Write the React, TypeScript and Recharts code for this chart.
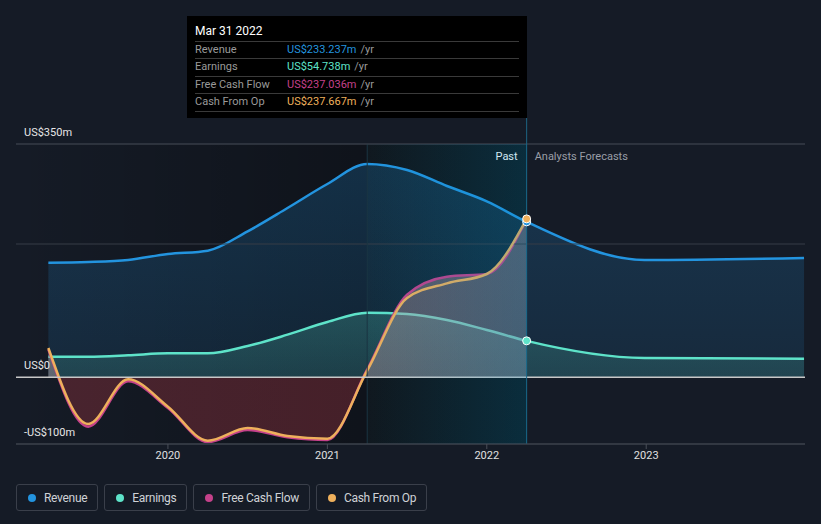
import { ComposedChart, Area, Line, XAxis, YAxis, ReferenceLine, ReferenceArea, ReferenceDot } from 'recharts'

// quarterly history (decimal years) and analyst forecasts, values in US$m
const pastDates = [2019.25, 2019.5, 2019.75, 2020, 2020.25, 2020.5, 2020.75, 2021, 2021.25, 2021.5, 2021.75, 2022, 2022.25]
const revenuePast = [172, 173, 176, 185, 190, 219, 254, 290, 320, 311, 287, 264, 233.237]
const earningsPast = [31, 31, 33, 36, 36, 47, 64, 83, 97, 95, 86, 71, 54.738]
const fcfPast = [42, -74, -6, -46, -97, -79, -90, -94, 12, 124, 151, 155, 237.036]
const cfoPast = [44, -70, -3, -44, -95, -76, -88, -92, 10, 119, 141, 155, 237.667]

const forecastDates = [2022.99, 2023.99]
const revenueForecast = [176, 179]
const earningsForecast = [29, 28]

const xTicks = [2020, 2021, 2022, 2023]
const yLabels = [
  { value: 350, text: 'US$350m' },
  { value: 0, text: 'US$0' },
  { value: -100, text: '-US$100m' },
]
const gridValues = [350, 200]

const series = [
  { name: 'Revenue', color: '#2394df', value: revenuePast[revenuePast.length - 1] },
  { name: 'Earnings', color: '#5ee3c9', value: earningsPast[earningsPast.length - 1] },
  { name: 'Free Cash Flow', color: '#c4418a', value: fcfPast[fcfPast.length - 1] },
  { name: 'Cash From Op', color: '#eeb05c', value: cfoPast[cfoPast.length - 1] },
]

const nowDate = pastDates[pastDates.length - 1]
const bandStart = pastDates[pastDates.length - 5]
const X_MIN = 2019.047
const X_MAX = 2023.996

const data = [
  ...pastDates.map((d, i) => ({
    date: d,
    revenue: revenuePast[i],
    earnings: earningsPast[i],
    fcf: fcfPast[i],
    cfo: cfoPast[i],
  })),
  ...forecastDates.map((d, i) => ({
    date: d,
    revenue: revenueForecast[i],
    earnings: earningsForecast[i],
  })),
]

const fcfMax = Math.max(...fcfPast)
const fcfMin = Math.min(...fcfPast)
const zeroOffset = fcfMax / (fcfMax - fcfMin)

const font = 'Roboto, "Noto Sans", sans-serif'

const YLabel = ({ viewBox, text }: any) => (
  <text x={viewBox.x + 8} y={viewBox.y - 8} fill="#e6e6e6" fontSize={11} fontFamily={font}>
    {text}
  </text>
)

const PastLabel = ({ viewBox }: any) => (
  <g fontFamily={font} fontSize={11}>
    <text x={viewBox.x - 9} y={viewBox.y + 42} textAnchor="end" fill="#ffffff">Past</text>
    <text x={viewBox.x + 8} y={viewBox.y + 42} fill="#9a9ea6">Analysts Forecasts</text>
  </g>
)

export default function App() {
  return (
    <div style={{ position: 'relative', width: 821, height: 524, background: '#151b26', fontFamily: font }}>
      <style>{`body{margin:0;background:#151b26}`}</style>
      <ComposedChart width={821} height={524} data={data} margin={{ top: 118, right: 16, bottom: 56, left: 16 }}>
        <defs>
          <linearGradient id="pastBg" x1="0" y1="0" x2="1" y2="0">
            <stop offset="0%" stopColor="#000" stopOpacity={0} />
            <stop offset="100%" stopColor="#000" stopOpacity={0.3} />
          </linearGradient>
          <linearGradient id="bandBg" x1="0" y1="0" x2="1" y2="0">
            <stop offset="0%" stopColor="#10161c" stopOpacity={1} />
            <stop offset="100%" stopColor="#0d1317" stopOpacity={1} />
          </linearGradient>
          <linearGradient id="bandGlow" x1="0" y1="0" x2="1" y2="0">
            <stop offset="0%" stopColor="rgb(0,138,194)" stopOpacity={0.02} />
            <stop offset="100%" stopColor="rgb(0,138,194)" stopOpacity={0.22} />
          </linearGradient>
          <linearGradient id="revFill" x1="0" y1="0" x2="0" y2="1">
            <stop offset="0%" stopColor="#2394df" stopOpacity={0.22} />
            <stop offset="100%" stopColor="#2394df" stopOpacity={0.12} />
          </linearGradient>
          <linearGradient id="earnFill" x1="0" y1="0" x2="0" y2="1">
            <stop offset="0%" stopColor="#5ee3c9" stopOpacity={0.22} />
            <stop offset="100%" stopColor="#5ee3c9" stopOpacity={0.14} />
          </linearGradient>
          <linearGradient id="cashFill" x1="0" y1="0" x2="0" y2="1">
            <stop offset="0%" stopColor="rgb(191,154,163)" stopOpacity={0.42} />
            <stop offset={zeroOffset} stopColor="rgb(191,154,163)" stopOpacity={0.4} />
            <stop offset={zeroOffset} stopColor="rgb(144,49,60)" stopOpacity={0.42} />
            <stop offset="100%" stopColor="rgb(144,49,60)" stopOpacity={0.42} />
          </linearGradient>
        </defs>
        <XAxis
          dataKey="date"
          type="number"
          domain={[X_MIN, X_MAX]}
          allowDataOverflow
          ticks={xTicks}
          tickFormatter={(v) => String(v)}
          height={24}
          axisLine={{ stroke: '#3d424c' }}
          tickLine={{ stroke: '#4a4f59' }}
          tickSize={5}
          tick={{ fill: '#e0e0e0', fontSize: 11, fontFamily: font }}
        />
        <YAxis hide type="number" domain={[-100, 389]} allowDataOverflow />
        <ReferenceArea x1={X_MIN} x2={bandStart} y1={-100} y2={350} fill="url(#pastBg)" fillOpacity={1} stroke="none" />
        <ReferenceArea x1={bandStart} x2={nowDate} y1={-100} y2={350} fill="url(#bandBg)" fillOpacity={1} stroke="none" />
        {gridValues.map((v) => (
          <ReferenceLine key={v} y={v} stroke="#373c47" strokeWidth={1} />
        ))}
        <Area type="monotone" dataKey="revenue" stroke="#2394df" strokeWidth={2.5} fill="url(#revFill)" fillOpacity={1} dot={false} activeDot={false} isAnimationActive={false} />
        <Area type="monotone" dataKey="earnings" stroke="#5ee3c9" strokeWidth={2.5} fill="url(#earnFill)" fillOpacity={1} dot={false} activeDot={false} isAnimationActive={false} />
        <Area type="monotone" dataKey="fcf" stroke="#c4418a" strokeWidth={2.5} fill="url(#cashFill)" fillOpacity={1} dot={false} activeDot={false} isAnimationActive={false} />
        <Line type="monotone" dataKey="cfo" stroke="#eeb05c" strokeWidth={2.5} dot={false} activeDot={false} isAnimationActive={false} />
        <ReferenceArea x1={bandStart} x2={nowDate} y1={-100} y2={350} fill="url(#bandGlow)" fillOpacity={1} stroke="none" zIndex={450} />
        <ReferenceLine stroke="#1a3340" strokeWidth={1} segment={[{ x: bandStart, y: -100 }, { x: bandStart, y: 350 }]} />
        {yLabels.map((l) => (
          <ReferenceLine
            key={l.value}
            y={l.value}
            stroke={l.value === 0 ? '#c8c8c8' : l.value === -100 ? '#3d424c' : '#373c47'}
            strokeWidth={l.value === 0 ? 1.5 : 1}
            label={<YLabel text={l.text} />}
          />
        ))}
        <ReferenceLine x={nowDate} stroke="#1d6583" strokeWidth={1} label={<PastLabel />} />
        <ReferenceDot x={nowDate} y={revenuePast[revenuePast.length - 1]} r={4} fill="#2394df" stroke="#ffffff" strokeWidth={1} />
        <ReferenceDot x={nowDate} y={cfoPast[cfoPast.length - 1]} r={4} fill="#eeb05c" stroke="#ffffff" strokeWidth={1} />
        <ReferenceDot x={nowDate} y={earningsPast[earningsPast.length - 1]} r={4} fill="#5ee3c9" stroke="#ffffff" strokeWidth={1} />
      </ComposedChart>

      <div style={{ position: 'absolute', left: 187, top: 16, width: 340, height: 102, background: '#000', boxSizing: 'border-box', padding: '6px 8px 0 8px' }}>
        <div style={{ color: '#fff', fontSize: 12, height: 19, lineHeight: '19px' }}>Mar 31 2022</div>
        {series.map((s) => (
          <div key={s.name} style={{ display: 'flex', borderTop: '1px solid #3a3a3a', boxSizing: 'border-box', height: 17.4, lineHeight: '16px', fontSize: 11, width: 324 }}>
            <span style={{ color: '#9a9a9a', width: 92 }}>{s.name}</span>
            <span style={{ color: s.color }}>US${s.value.toFixed(3)}m</span>
            <span style={{ color: '#9a9a9a', marginLeft: 4 }}>/yr</span>
          </div>
        ))}
        <div style={{ borderTop: '1px solid #3a3a3a', width: 324 }} />
      </div>

      <div style={{ position: 'absolute', left: 16, top: 484, display: 'flex', gap: 6 }}>
        {series.map((s) => (
          <div key={s.name} style={{ display: 'flex', alignItems: 'center', height: 27, border: '1px solid #3a3f4a', borderRadius: 3, padding: '0 10px 0 11px', boxSizing: 'border-box' }}>
            <span style={{ width: 8, height: 8, borderRadius: 4, background: s.color, marginRight: 8 }} />
            <span style={{ color: '#cfd2d6', fontSize: 12, letterSpacing: -0.3 }}>{s.name}</span>
          </div>
        ))}
      </div>
    </div>
  )
}
